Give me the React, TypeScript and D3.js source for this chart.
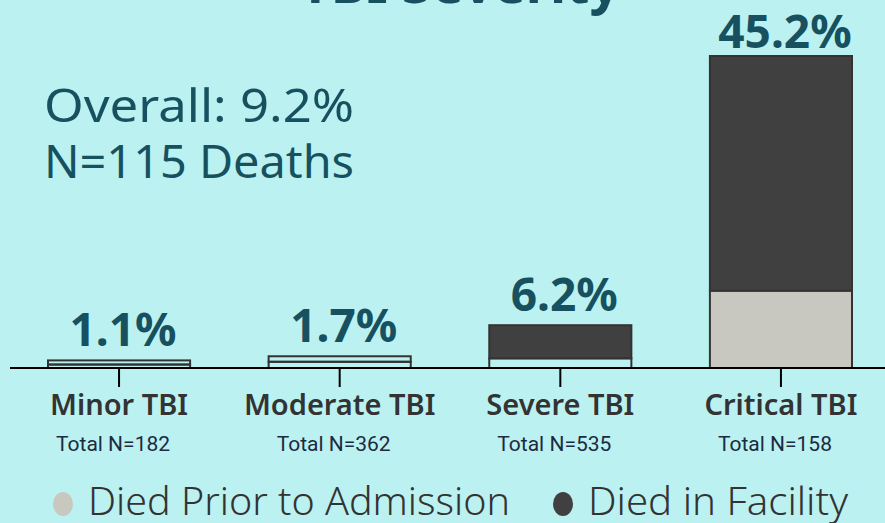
import React, { useRef, useEffect } from 'react';
import * as d3 from 'd3';

// TBI severity mortality
const categories = ['Minor TBI', 'Moderate TBI', 'Severe TBI', 'Critical TBI'];
const totals = [182, 362, 535, 158];
const diedPrior = [0.5, 0.9, 1.4, 11.2];
const diedFacility = [0.6, 0.8, 4.8, 34.0];
const rateLabels = ['1.1%', '1.7%', '6.2%', '45.2%'];
const seriesNames = ['Died Prior to Admission', 'Died in Facility'];
const overallLines = ['Overall: 9.2%', 'N=115 Deaths'];

export default function App() {
  const ref = useRef<SVGSVGElement>(null);

  useEffect(() => {
    const width = 885;
    const height = 523;
    const baseline = 368;
    const teal = '#17515f';
    const ink = '#333333';
    const light = '#c9c8c0';
    const dark = '#404040';
    const font = "'Noto Sans', 'Open Sans', sans-serif";

    const svg = d3.select(ref.current);
    svg.selectAll('*').remove();

    svg.append('rect')
      .attr('width', width)
      .attr('height', height)
      .attr('fill', '#bbf1f1');

    const x = d3.scaleBand<string>()
      .domain(categories)
      .range([48, 852])
      .paddingInner(0.356)
      .paddingOuter(0);

    const y = d3.scaleLinear()
      .domain([0, 45.2])
      .range([baseline, 56]);

    const rows = categories.map((c, i) => ({ cat: c, prior: diedPrior[i], facility: diedFacility[i] }));
    const stack = d3.stack<any>().keys(['prior', 'facility'])(rows);

    // only the critical bar shows a filled "prior" segment in the reference
    const fillFor = (key: string, cat: string) => {
      if (key === 'facility') return cat === 'Minor TBI' || cat === 'Moderate TBI' ? 'none' : dark;
      return cat === 'Critical TBI' ? light : 'none';
    };

    // title, mostly cut off at the top
    svg.append('text')
      .attr('x', 460)
      .attr('y', 3)
      .attr('text-anchor', 'middle')
      .attr('font-family', font)
      .attr('font-size', 54)
      .attr('font-weight', 700)
      .attr('fill', teal)
      .text('TBI Severity');

    svg.append('g')
      .selectAll('text')
      .data(overallLines)
      .join('text')
      .attr('x', 44)
      .attr('y', (d, i) => 122 + i * 56)
      .attr('font-family', font)
      .attr('font-size', 46)
      .attr('fill', teal)
      .attr('textLength', 310)
      .attr('lengthAdjust', 'spacingAndGlyphs')
      .text(d => d);

    svg.append('g')
      .selectAll('g')
      .data(stack)
      .join('g')
      .selectAll('rect')
      .data(s => s.map(d => ({ key: s.key, d })))
      .join('rect')
      .attr('x', v => x(v.d.data.cat)!)
      .attr('width', x.bandwidth())
      .attr('y', v => y(v.d[1]))
      .attr('height', v => y(v.d[0]) - y(v.d[1]))
      .attr('fill', v => fillFor(v.key, v.d.data.cat))
      .attr('stroke', ink)
      .attr('stroke-width', 2);

    // axis
    const axis = svg.append('g')
      .attr('transform', `translate(0,${baseline})`)
      .call(d3.axisBottom(x).tickSize(19).tickSizeOuter(0).tickFormat(() => ''));
    axis.select('.domain').remove();
    axis.selectAll('.tick line').attr('stroke', '#000').attr('stroke-width', 2);
    axis.append('line')
      .attr('x1', 10)
      .attr('x2', width)
      .attr('stroke', '#000')
      .attr('stroke-width', 2);

    const cx = (c: string) => x(c)! + x.bandwidth() / 2;

    svg.append('g')
      .selectAll('text')
      .data(categories)
      .join('text')
      .attr('x', d => cx(d) + 4)
      .attr('y', (d, i) => y(diedPrior[i] + diedFacility[i]) - (i === 3 ? 8 : 14))
      .attr('text-anchor', 'middle')
      .attr('font-family', font)
      .attr('font-size', 46)
      .attr('font-weight', 700)
      .attr('fill', teal)
      .text((d, i) => rateLabels[i]);

    svg.append('g')
      .selectAll('text')
      .data(categories)
      .join('text')
      .attr('x', d => cx(d))
      .attr('y', 415)
      .attr('text-anchor', 'middle')
      .attr('font-family', font)
      .attr('font-size', 29)
      .attr('font-weight', 600)
      .attr('fill', ink)
      .text(d => d);

    svg.append('g')
      .selectAll('text')
      .data(categories)
      .join('text')
      .attr('x', d => cx(d) - 6)
      .attr('y', 451)
      .attr('text-anchor', 'middle')
      .attr('font-family', 'Roboto, sans-serif')
      .attr('font-size', 21)
      .attr('fill', '#1c2b40')
      .attr('textLength', 114)
      .attr('lengthAdjust', 'spacingAndGlyphs')
      .text((d, i) => `Total N=${totals[i]}`);

    // legend
    const legendX = [63, 563];
    const legendW = [422, 260];
    const legend = svg.append('g')
      .selectAll('g')
      .data(seriesNames)
      .join('g')
      .attr('transform', (d, i) => `translate(${legendX[i]},0)`);
    legend.append('ellipse')
      .attr('cx', 0)
      .attr('cy', 504)
      .attr('rx', 10)
      .attr('ry', 12)
      .attr('fill', (d, i) => (i === 0 ? light : dark));
    legend.append('text')
      .attr('x', 25)
      .attr('y', 515)
      .attr('font-family', font)
      .attr('font-size', 38)
      .attr('font-weight', 300)
      .attr('fill', ink)
      .attr('textLength', (d, i) => legendW[i])
      .attr('lengthAdjust', 'spacingAndGlyphs')
      .text(d => d);
  }, []);

  return (
    <svg
      ref={ref}
      width={885}
      height={523}
      style={{ position: 'absolute', left: 0, top: 0, display: 'block' }}
    />
  );
}
